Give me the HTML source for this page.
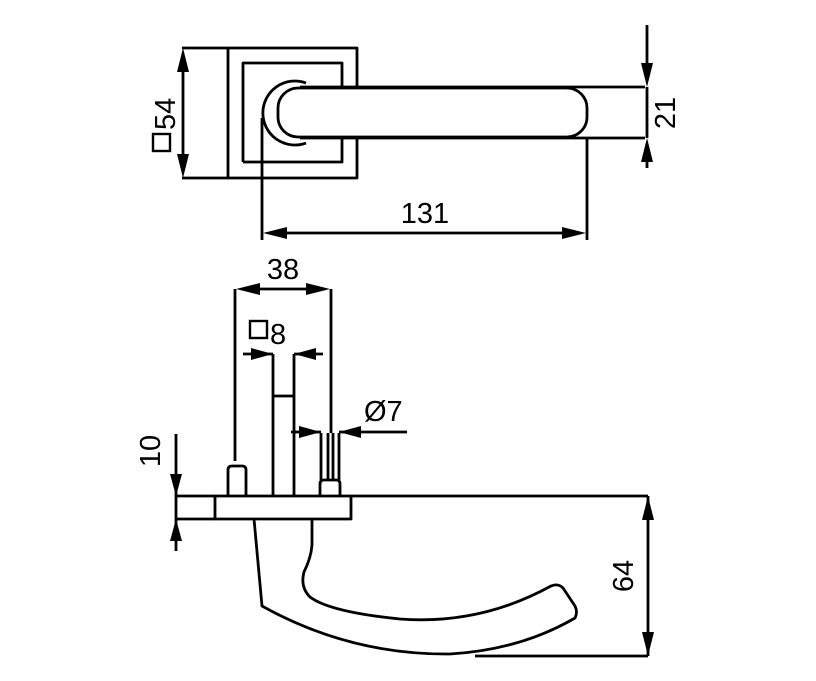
<!DOCTYPE html>
<html><head><meta charset="utf-8"><style>
html,body{margin:0;padding:0;background:#fff;}
svg{display:block}
text{font-family:"Liberation Sans",sans-serif;font-size:29px;fill:#000}
</style></head><body>
<svg width="816" height="681" viewBox="0 0 816 681" xmlns="http://www.w3.org/2000/svg">
<g fill="none" stroke="#000" stroke-width="2.8" stroke-linejoin="round">
<!-- top view rose -->
<rect x="228" y="48" width="129" height="130"/>
<path d="M243 162 V63 H342 V87 M342 138 V162 H243"/>
<!-- handle -->
<path d="M300 87 H645 M300 138 H645"/>
<rect x="278" y="88" width="309" height="49" rx="20" fill="#fff"/>
<path d="M306 83 A32 32 0 1 0 306 143"/>
<!-- 54 dim -->
<path d="M228 48 H182 M228 178 H182 M183 60 V166"/>
<!-- 131 -->
<path d="M262 118 V240 M587 138 V240 M275 233 H575"/>
<!-- 21 -->
<path d="M647 25 V75 M647 87 V138 M647 150 V168"/>
<!-- bottom view -->
<path d="M235 461 V289 M331 433 V289 M248 289 H318"/>
<path d="M243 354 H273 M294 354 H323"/>
<path d="M273 354 V495 M294 354 V495 M273 396 H294"/>
<path d="M291 432 H321 M339 432 H407"/>
<path d="M321 433 V480 M328 433 V480 M333 433 V480 M339 433 V480"/>
<path d="M228 495 V470 Q228 466 232 466 H242 Q246 466 246 470 V495"/>
<path d="M320 495 V484 Q320 480 324 480 H336 Q340 480 340 484 V495"/>
<rect x="215" y="496" width="136" height="23"/>
<path d="M176 496 H215 M176 519 H215 M351 496 H648"/>
<path d="M176 434 V551"/>
<path d="M648 496 V656 M475 656 H648"/>
<!-- lever -->
<path d="M254 519 L262 606 Q350 655 450 654 Q520 650 575 618 Q578 612 575 606 L563 588 Q558 583 551 586 Q480 625 400 619 Q330 612 310 597 Q300 587 304 572 Q311 558 312 545 V519"/>
</g>
<g fill="#000" stroke="none">
<path d="M183 48 L177 72 L189 72Z M183 178 L177 154 L189 154Z"/>
<path d="M263 233 L287 227 L287 239Z M586 233 L562 227 L562 239Z"/>
<path d="M647 87 L641 63 L653 63Z M647 138 L641 162 L653 162Z"/>
<path d="M236 289 L260 283 L260 295Z M330 289 L306 283 L306 295Z"/>
<path d="M273 354 L251 348 L251 360Z M294 354 L316 348 L316 360Z"/>
<path d="M321 432 L299 426 L299 438Z M339 432 L361 426 L361 438Z"/>
<path d="M176 496 L170 474 L182 474Z M176 519 L170 541 L182 541Z"/>
<path d="M648 496 L642 520 L654 520Z M648 656 L642 632 L654 632Z"/>
</g>
<g fill="none" stroke="#000" stroke-width="2.4">
<rect x="153" y="134" width="17" height="17"/>
<rect x="250" y="321" width="17" height="17"/>
</g>
<text transform="translate(175 130) rotate(-90)">54</text>
<text x="425" y="223" text-anchor="middle">131</text>
<text transform="translate(675 113) rotate(-90)" text-anchor="middle">21</text>
<text x="283" y="279" text-anchor="middle">38</text>
<text x="270" y="344">8</text>
<text x="364" y="421">Ø7</text>
<text transform="translate(160 451) rotate(-90)" text-anchor="middle">10</text>
<text transform="translate(633 576) rotate(-90)" text-anchor="middle">64</text>
</svg>
</body></html>
